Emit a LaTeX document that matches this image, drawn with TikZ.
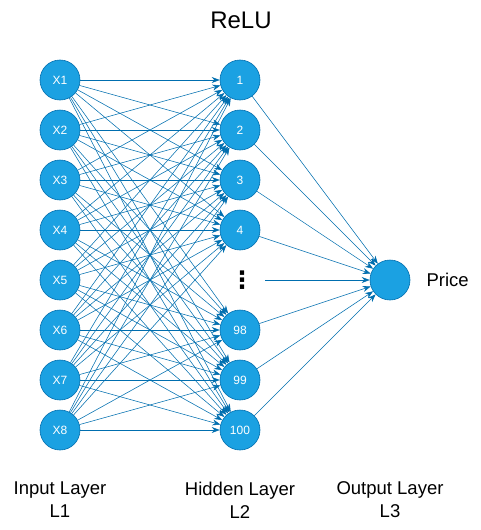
\documentclass[tikz,border=0pt]{standalone}
\usepackage{fontspec}
\setmainfont{Liberation Sans}
\newfontfamily\djv{DejaVu Sans}
\usetikzlibrary{arrows.meta}
\definecolor{nfill}{HTML}{1BA1E2}
\definecolor{nline}{HTML}{006EAF}
\begin{document}
\begin{tikzpicture}[x=1pt,y=-1pt,
  neuron/.style={circle,draw=nline,fill=nfill,minimum size=40pt,inner sep=0pt,line width=0.6pt,text=white,font=\fontsize{12}{14}\selectfont},
  conn/.style={draw=nline,line width=0.55pt,-{Stealth[length=8pt,width=6pt]}},
  lbl/.style={align=center,font=\fontsize{18.5}{23}\selectfont}]
\useasboundingbox (0,0) rectangle (480,530);
\node[font=\fontsize{24}{28}\selectfont] (title) at (241,20) {ReLU};
\foreach \i in {1,...,8} {
  \node[neuron] (x\i) at (60,{30+50*\i}) {X\i};
}
\node[neuron] (h1) at (240,80) {1};
\node[neuron] (h2) at (240,130) {2};
\node[neuron] (h3) at (240,180) {3};
\node[neuron] (h4) at (240,230) {4};
\node[font=\fontsize{24}{26}\selectfont\djv\bfseries,inner sep=0pt] (dots) at (242,280) {⋮};
\coordinate (dstart) at (265,280);
\node[neuron] (h5) at (240,330) {98};
\node[neuron] (h6) at (240,380) {99};
\node[neuron] (h7) at (240,430) {100};
\node[neuron] (out) at (390,280) {};
\node[font=\fontsize{18.5}{22}\selectfont,anchor=west] (price) at (423,280) {Price};
\foreach \i in {1,...,8} {
  \foreach \j in {1,...,7} {
    \draw[conn] (x\i) -- (h\j);
  }
}
\foreach \j in {1,...,7} {
  \draw[conn] (h\j) -- (out);
}
\draw[conn] (dstart) -- (out);
\node[lbl] (l1) at (60,500) {Input Layer\\L1};
\node[lbl] (l2) at (240,500) {Hidden Layer\\L2};
\node[lbl] (l3) at (390,500) {Output Layer\\L3};
\end{tikzpicture}
\end{document}
